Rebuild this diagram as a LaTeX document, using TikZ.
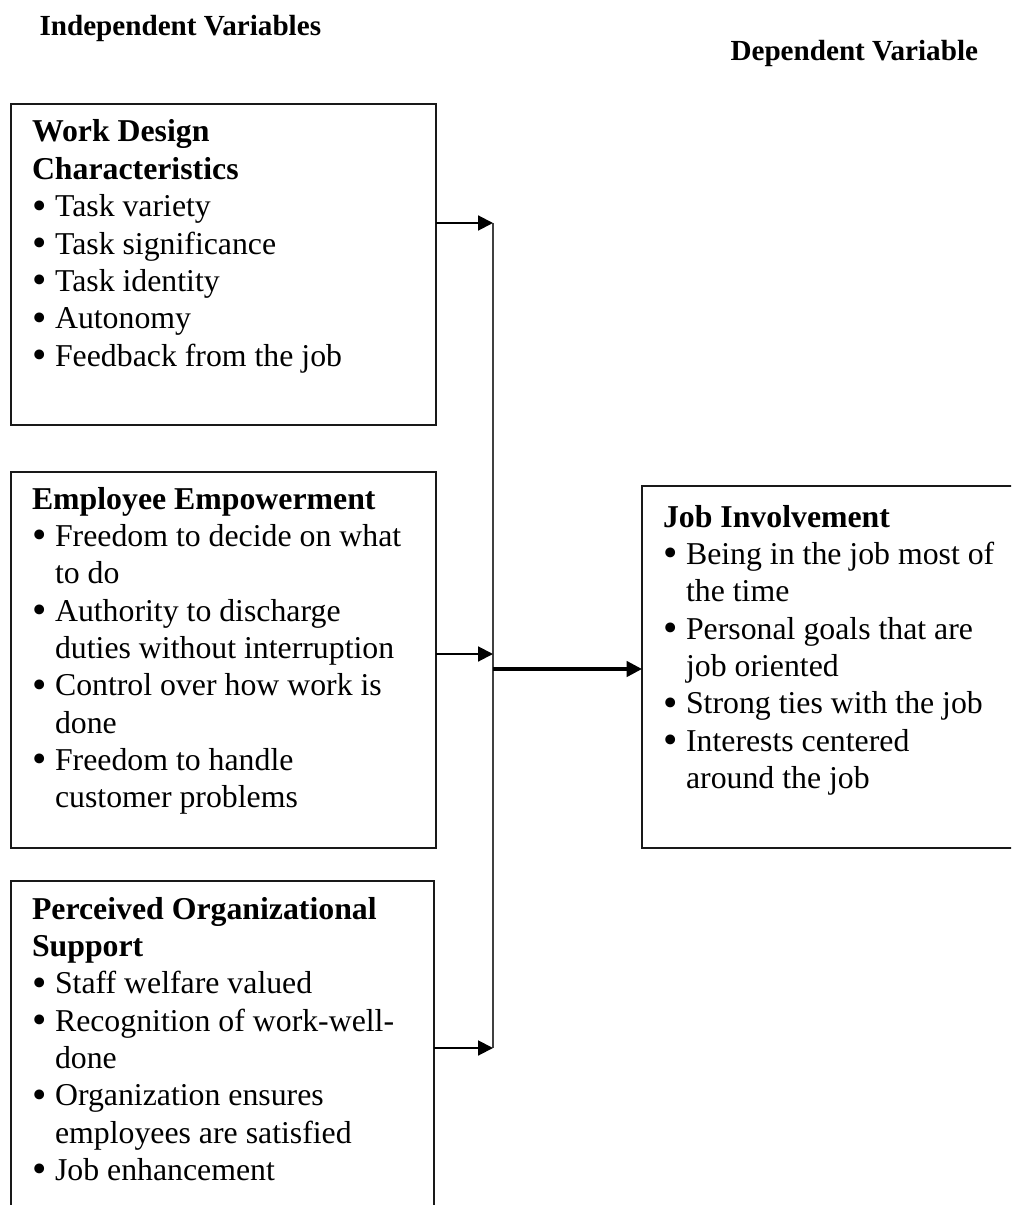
\documentclass[tikz,border=0pt]{standalone}
\usepackage{fontspec}
\setmainfont{Liberation Serif}
\usetikzlibrary{arrows.meta,fit}

% one line of a box: heading, bullet item, wrapped continuation
\newcommand\boxhead[1]{\hbox{\bfseries #1}}
\newcommand\bigbullet{\raisebox{-0.9pt}{\fontsize{15.5}{15.5}\selectfont\textbullet}}
\newcommand\boxbullet[1]{\hbox{\hspace*{0.3pt}\makebox[8.4pt][l]{\bigbullet}#1}}
\newcommand\boxcont[1]{\hbox{\hspace*{8.7pt}#1}}
\newcommand\boxtext[1]{\vtop{\fontsize{12}{14.1}\selectfont\baselineskip=14.1pt #1}}

\begin{document}
\begin{tikzpicture}[x=0.3774pt,y=-0.3774pt,
  frame/.style={draw=black!90, line width=0.8pt, inner sep=0pt, outer sep=0pt},
  txt/.style={anchor=base west, inner sep=0pt, outer sep=0pt},
  title/.style={anchor=base west, inner sep=0pt, font=\fontsize{11}{13}\selectfont\bfseries},
  feed/.style={line width=0.75pt, -{Triangle[length=5.6pt,width=5.6pt]}},
  bus/.style={line width=0.6pt, draw=black!75},
  result/.style={line width=1.25pt, -{Triangle[length=5.8pt,width=5.8pt]}}]

\useasboundingbox (0,0) rectangle (1011,1205);
\fill[white] (0,0) rectangle (1011,1205);
\clip (0,0) rectangle (1011,1205);

% column titles
\node[title] (indep) at (39,36) {Independent Variables};
\node[title] (dep) at (730,61) {Dependent Variable};

% frames
\node[frame, fit={(11,104) (436,425)}] (wdc) {};
\node[frame, fit={(11,472) (436,848)}] (emp) {};
\node[frame, fit={(11,881) (434,1240)}] (pos) {};
\node[frame, fit={(642,486) (1040,848)}] (ji) {};

% box contents
\node[txt] (wdctext) at (32,142) {\boxtext{%
  \boxhead{Work Design}
  \boxhead{Characteristics}
  \boxbullet{Task variety}
  \boxbullet{Task significance}
  \boxbullet{Task identity}
  \boxbullet{Autonomy}
  \boxbullet{Feedback from the job}}};

\node[txt] (emptext) at (32,509) {\boxtext{%
  \boxhead{Employee Empowerment}
  \boxbullet{Freedom to decide on what}
  \boxcont{to do}
  \boxbullet{Authority to discharge}
  \boxcont{duties without interruption}
  \boxbullet{Control over how work is}
  \boxcont{done}
  \boxbullet{Freedom to handle}
  \boxcont{customer problems}}};

\node[txt] (postext) at (32,919) {\boxtext{%
  \boxhead{Perceived Organizational}
  \boxhead{Support}
  \boxbullet{Staff welfare valued}
  \boxbullet{Recognition of work-well-}
  \boxcont{done}
  \boxbullet{Organization ensures}
  \boxcont{employees are satisfied}
  \boxbullet{Job enhancement}}};

\node[txt] (jitext) at (663,527) {\boxtext{%
  \boxhead{Job Involvement}
  \boxbullet{Being in the job most of}
  \boxcont{the time}
  \boxbullet{Personal goals that are}
  \boxcont{job oriented}
  \boxbullet{Strong ties with the job}
  \boxbullet{Interests centered}
  \boxcont{around the job}}};

% collecting bus and arrows
\coordinate (j1) at (493,223);
\coordinate (j2) at (493,654);
\coordinate (j3) at (493,1048);
\coordinate (jo) at (493,669);

\draw[bus] (j1) -- (j3);
\draw[feed] (wdc.east |- j1) -- (j1);
\draw[feed] (emp.east |- j2) -- (j2);
\draw[feed] (pos.east |- j3) -- (j3);
\draw[result] (jo) -- (ji.west |- jo);
\end{tikzpicture}
\end{document}
